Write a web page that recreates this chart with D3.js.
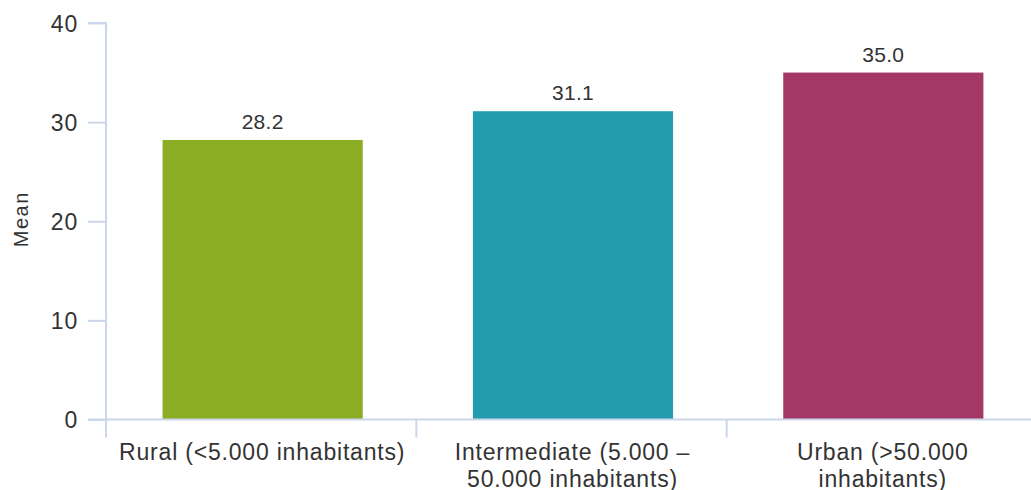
<!DOCTYPE html>
<html>
<head>
<meta charset="utf-8">
<script src="https://cdn.jsdelivr.net/npm/d3@7/dist/d3.min.js"></script>
<style>
  html, body { margin: 0; padding: 0; background: #ffffff; }
  svg { display: block; font-family: "Liberation Sans", Arial, sans-serif; }
</style>
</head>
<body>
<svg id="chart" width="1031" height="490"></svg>
<script>
// Mean values by degree of urbanisation
const categories = [
  "Rural (<5.000 inhabitants)",
  "Intermediate (5.000 – 50.000 inhabitants)",
  "Urban (>50.000 inhabitants)"
];
const values = [28.2, 31.1, 35.0];
const barColors = ["#8aad23", "#229cae", "#a33866"];
const yTicks = [0, 10, 20, 30, 40];
const yTitle = "Mean";

const width = 1031, height = 490;
const margin = { top: 23, right: -6, bottom: 70.5, left: 106 };
const axisColor = "#ccd6eb";
const textColor = "#333333";

const svg = d3.select("#chart");
const innerW = width - margin.left - margin.right;
const innerH = height - margin.top - margin.bottom;

const x = d3.scaleBand().domain(categories).range([margin.left, margin.left + innerW]).padding(0);
const y = d3.scaleLinear().domain([0, 40]).range([margin.top + innerH, margin.top]);

const barW = x.bandwidth() * 0.645;

// Bars
svg.append("g").selectAll("rect")
  .data(categories)
  .join("rect")
  .attr("x", (d) => x(d) + x.bandwidth() / 2 - barW / 2 + 1.5)
  .attr("y", (d, i) => y(values[i]))
  .attr("width", barW)
  .attr("height", (d, i) => y(0) - y(values[i]))
  .attr("fill", (d, i) => barColors[i]);

// Value labels above bars
svg.append("g").selectAll("text")
  .data(categories)
  .join("text")
  .attr("x", (d) => x(d) + x.bandwidth() / 2 + 1.5)
  .attr("y", (d, i) => y(values[i]) - 11)
  .attr("text-anchor", "middle")
  .attr("fill", textColor)
  .style("font-size", "21px")
  .style("letter-spacing", "0.3px")
  .text((d, i) => values[i].toFixed(1));

// Y axis
const yAxis = svg.append("g")
  .attr("transform", `translate(${margin.left},0)`)
  .call(d3.axisLeft(y).tickValues(yTicks).tickSize(18).tickPadding(10));
yAxis.select(".domain").attr("stroke", axisColor).attr("stroke-width", 2)
  .attr("d", `M-18,${y(40)}H0V${y(0)}`);
yAxis.selectAll(".tick line").attr("stroke", axisColor).attr("stroke-width", 2);
yAxis.selectAll(".tick text").attr("fill", textColor)
  .style("font-size", "23px").style("letter-spacing", "0.8px")
  .style("font-family", "'Liberation Sans', Arial, sans-serif")
  .attr("dy", "0.35em");

// X axis
const xAxis = svg.append("g")
  .attr("transform", `translate(0,${y(0)})`);
xAxis.append("path")
  .attr("d", `M${margin.left - 18},0H${width}`)
  .attr("stroke", axisColor).attr("stroke-width", 2).attr("fill", "none");
const boundaries = categories.map((d) => x(d));
xAxis.selectAll("line.tick")
  .data(boundaries)
  .join("line")
  .attr("class", "tick")
  .attr("x1", (d) => d).attr("x2", (d) => d)
  .attr("y1", 0).attr("y2", 18)
  .attr("stroke", axisColor).attr("stroke-width", 2);

// Category labels, wrapped to the band width
const maxLabelW = 300;
const labels = xAxis.selectAll("text.cat")
  .data(categories)
  .join("text")
  .attr("class", "cat")
  .attr("text-anchor", "middle")
  .attr("fill", textColor)
  .style("font-size", "23px")
  .style("letter-spacing", "0.8px")
  .attr("x", (d) => x(d) + x.bandwidth() / 2 + 1)
  .attr("y", 40.5);

labels.each(function (d) {
  const el = d3.select(this);
  const words = d.split(" ");
  const lines = [];
  let line = [];
  const probe = el.append("tspan");
  words.forEach((w) => {
    const test = line.concat([w]).join(" ");
    probe.text(test);
    if (probe.node().getComputedTextLength() > maxLabelW && line.length) {
      lines.push(line.join(" "));
      line = [w];
    } else {
      line.push(w);
    }
  });
  lines.push(line.join(" "));
  probe.remove();
  const cx = +el.attr("x");
  lines.forEach((l, i) => {
    el.append("tspan").attr("x", cx).attr("dy", i === 0 ? 0 : 27).text(l);
  });
});

// Y axis title
svg.append("text")
  .attr("transform", `translate(28,${y(20) - 2}) rotate(-90)`)
  .attr("text-anchor", "middle")
  .attr("fill", textColor)
  .style("font-size", "20px")
  .style("letter-spacing", "1.5px")
  .text(yTitle);
</script>
</body>
</html>
